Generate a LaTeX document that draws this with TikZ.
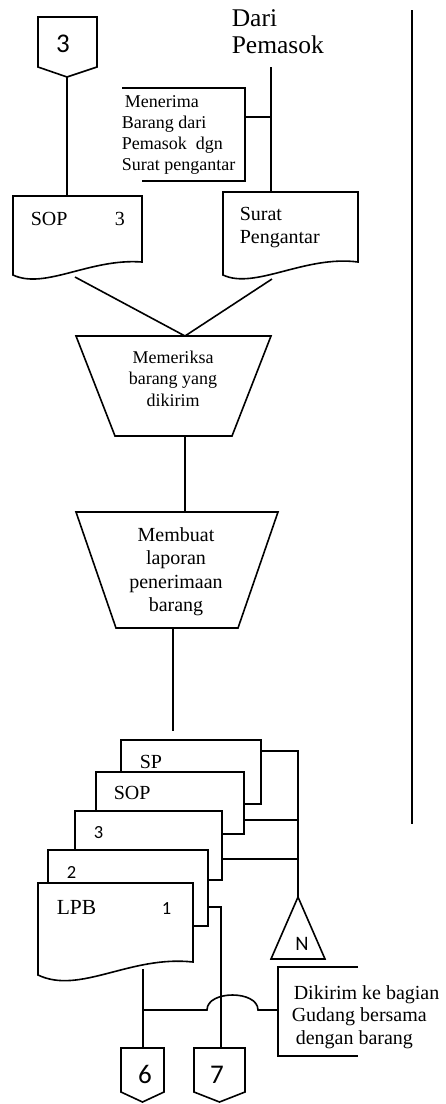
\documentclass[tikz,border=0pt]{standalone}
\usepackage{fontspec}
\setmainfont{Liberation Serif}
\newfontfamily\numfont{Carlito}
\begin{document}
\begin{tikzpicture}[x=1pt,y=-1pt,line width=1.6pt,line join=miter,
  txt/.style={inner sep=0pt,anchor=base west},
  ctxt/.style={inner sep=0pt,anchor=base},
  fA/.style={font=\fontsize{18}{21}\selectfont},
  fB/.style={font=\fontsize{20}{23}\selectfont},
  fC/.style={font=\fontsize{25.5}{28}\selectfont},
  nA/.style={font=\numfont\fontsize{27}{30}\selectfont},
  nB/.style={font=\numfont\fontsize{18.5}{20}\selectfont}]
\useasboundingbox (0,0) rectangle (445,1104);

% ---- lane divider
\coordinate (divtop) at (412,10);
\coordinate (divbot) at (412,824);
\draw (divtop) -- (divbot);

% ---- off-page connector 3
\draw (38,17) -- (97,17) -- (97,67) -- (67,77) -- (38,67) -- cycle;
\coordinate (c3tip) at (67,77);
\node[ctxt,nA] (c3lbl) at (63,52) {3};

% ---- document SOP 3
\draw (13,196) -- (142,196) -- (142,262) .. controls (90,258) and (45,290) .. (13,275) -- cycle;
\coordinate (sopTop) at (67,196);
\coordinate (sopBot) at (75,277);
\node[txt,fB] (sopA) at (30,225) {SOP};
\node[txt,fB] (sopB) at (114,225) {3};

% ---- source label
\node[txt,fC] (dari) at (231,26) {Dari};
\node[txt,fC] (pemasok) at (231,53) {Pemasok};
\coordinate (srcTop) at (271,67);

% ---- annotation: receiving goods
\draw (122,88) -| (245,181) -- (142,181);
\coordinate (noteA) at (245,117);
\coordinate (noteAj) at (271,117);
\node[txt,fA] (nA1) at (124,107) {Menerima};
\node[txt,fA] (nA2) at (121,128) {Barang dari};
\node[txt,fA] (nA3) at (121,149) {Pemasok\ \ dgn};
\node[txt,fA] (nA4) at (121,170) {Surat pengantar};

% ---- document Surat Pengantar
\draw (223,192) -- (358,192) -- (358,262) .. controls (305,255) and (255,290) .. (223,275) -- cycle;
\coordinate (spTop) at (271,192);
\coordinate (spBot) at (272,279);
\node[txt,fB] (sp1) at (239,220) {Surat};
\node[txt,fB] (sp2) at (239,243) {Pengantar};

% ---- manual operation: check goods
\draw (76,336) -- (271,336) -- (232,436) -- (115,436) -- cycle;
\coordinate (m1top) at (185,336);
\coordinate (m1bot) at (185,436);
\node[ctxt,fA] (m1a) at (173,363) {Memeriksa};
\node[ctxt,fA] (m1b) at (173,384.5) {barang yang};
\node[ctxt,fA] (m1c) at (173,406) {dikirim};

% ---- manual operation: make report
\draw (76,512) -- (278,512) -- (238,628) -- (116,628) -- cycle;
\coordinate (m2top) at (185,512);
\coordinate (m2bot) at (173,628);
\coordinate (m2out) at (173,731);
\node[ctxt,fB] (m2a) at (176,541) {Membuat};
\node[ctxt,fB] (m2b) at (176,564.5) {laporan};
\node[ctxt,fB] (m2c) at (176,588) {penerimaan};
\node[ctxt,fB] (m2d) at (176,611.5) {barang};

% ---- stacked report copies
\draw (121,772) |- (261,740) |- (244,804);
\draw (96,811) |- (244,772) |- (222,834);
\draw (75,850) |- (222,811) |- (208,880);
\draw (48,883) |- (208,850) |- (193,926);
\draw (38,883) -- (193,883) -- (193,962) .. controls (130,955) and (80,995) .. (38,975) -- cycle;
\node[txt,fB] (dSP) at (139,768) {SP};
\node[txt,fB] (dSOP) at (113,799) {SOP};
\node[txt,nB] (d3) at (93,838) {3};
\node[txt,nB] (d2) at (66,878) {2};
\node[txt,font=\fontsize{21.5}{24}\selectfont] (dLPB) at (56,914) {LPB};
\node[txt,nB] (d1) at (161,914) {1};
\coordinate (oSP) at (261,751);
\coordinate (oSOP) at (244,820);
\coordinate (o3) at (222,859);
\coordinate (o2) at (208,907);
\coordinate (oLPB) at (143,969);

% ---- file N
\draw (298,897) -- (325,959) -- (271,959) -- cycle;
\coordinate (fileTop) at (298,897);
\node[ctxt,font=\numfont\fontsize{20.5}{22}\selectfont] (fN) at (302,950) {N};
\coordinate (busTop) at (298,751);

% ---- annotation: sent to warehouse
\draw (358,967) -| (278,1056) -- (358,1056);
\coordinate (noteB) at (278,1010);
\node[txt,fB] (nB1) at (293,999) {Dikirim ke bagian};
\node[txt,fB] (nB2) at (291,1021.5) {Gudang bersama};
\node[txt,fB] (nB3) at (295,1044) {dengan barang};

% ---- off-page connectors 6 and 7
\draw (121,1048) -- (164,1048) -- (164,1092) -- (142.5,1102) -- (121,1092) -- cycle;
\coordinate (c6top) at (143,1048);
\node[ctxt,nA] (c6lbl) at (145,1083) {6};
\draw (194,1048) -- (245,1048) -- (245,1092) -- (219.5,1102) -- (194,1092) -- cycle;
\coordinate (c7top) at (221,1048);
\node[ctxt,nA] (c7lbl) at (217,1083) {7};

% ---- flow lines
\draw (c3tip) -- (sopTop);
\draw (srcTop) -- (spTop);
\draw (noteA) -- (noteAj);
\draw (sopBot) -- (m1top);
\draw (spBot) -- (m1top);
\draw (m1bot) -- (m2top);
\draw (m2bot) -- (m2out);
\draw (oSP) -- (busTop) -- (fileTop);
\draw (oSOP) -- (oSOP -| busTop);
\draw (o3) -- (o3 -| busTop);
\draw (o2) -| (c7top);
\draw (oLPB) -- (c6top);
\coordinate (jL) at (143,1010);
\coordinate (hopA) at (207,1010);
\coordinate (hopB) at (258,1010);
\draw (jL) -- (hopA) .. controls (207,990) and (258,990) .. (hopB) -- (noteB);
\end{tikzpicture}
\end{document}
